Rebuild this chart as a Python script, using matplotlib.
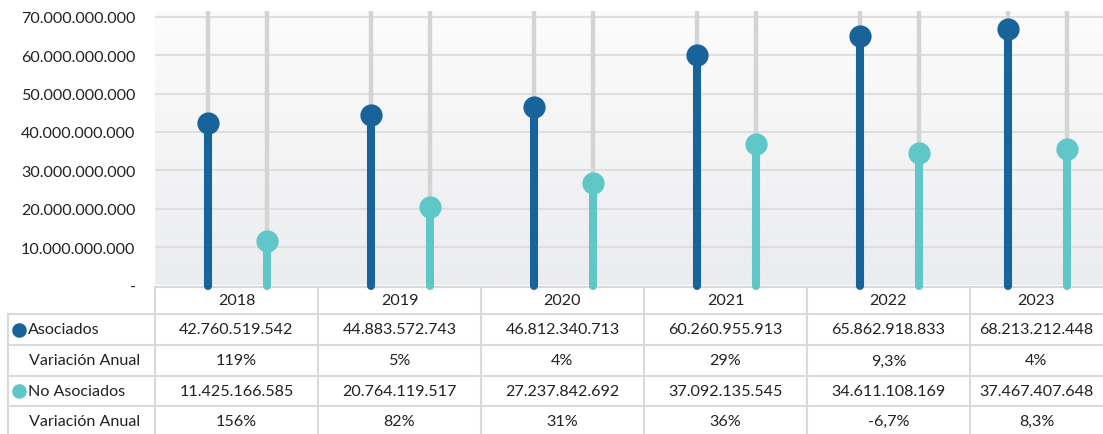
import matplotlib
matplotlib.use("Agg")
import matplotlib.pyplot as plt
import numpy as np
from matplotlib.ticker import FixedLocator, FuncFormatter

plt.rcParams['font.family'] = ['Lato', 'DejaVu Sans']

# ---------------- data ----------------
years = ["2018", "2019", "2020", "2021", "2022", "2023"]
# values shown in the table
asociados = [42760519542, 44883572743, 46812340713, 60260955913, 65862918833, 68213212448]
no_asociados = [11425166585, 20764119517, 27237842692, 37092135545, 34611108169, 37467407648]
var_asociados = ["119%", "5%", "4%", "29%", "9,3%", "4%"]
var_no_asociados = ["156%", "82%", "31%", "36%", "-6,7%", "8,3%"]
# values as plotted in the lollipop chart (billions)
asociados_plot = [42.2e9, 44.4e9, 46.6e9, 60.0e9, 64.9e9, 66.8e9]
no_asociados_plot = [11.7e9, 20.4e9, 26.7e9, 36.8e9, 34.6e9, 35.5e9]
series_names = ["Asociados", "No Asociados"]
var_label = "Variación Anual"
yticks = [0, 10e9, 20e9, 30e9, 40e9, 50e9, 60e9, 70e9]

# ---------------- style ----------------
W, H = 1103, 435
DPI = 100
C_BLUE = "#17639a"
C_TEAL = "#5fc7c7"
C_GRAY_LINE = "#d4d4d4"
C_GRID = "#dedede"
C_BORDER = "#dadada"
C_TEXT = "#222222"
FS = 11.6

fig = plt.figure(figsize=(W / DPI, H / DPI), dpi=DPI)
fig.patch.set_facecolor("white")

def px2fig(x0, y0, x1, y1):
    return [x0 / W, 1 - y1 / H, (x1 - x0) / W, (y1 - y0) / H]

# layout of columns (pixels)
tab_left = 155
col_widths = [163, 163, 163, 163, 163, 133]
col_edges = np.concatenate([[tab_left], tab_left + np.cumsum(col_widths)])
col_centers = (col_edges[:-1] + col_edges[1:]) / 2 + 0.7
offset = 29.5

# ---------------- main plot ----------------
plot_top, plot_zero = 12, 286.5
px_per_unit = (plot_zero - 17.7) / 70e9
ymax = (plot_zero - plot_top) / px_per_unit

ax = fig.add_axes(px2fig(tab_left, plot_top, W, plot_zero))
ax.set_xlim(tab_left, W)
ax.set_ylim(0, ymax)
ax.patch.set_alpha(0)

# gradient background
grad = np.linspace(0, 1, 256).reshape(-1, 1)
top_c = np.array([0xfc, 0xfc, 0xfc]) / 255
bot_c = np.array([0xeb, 0xec, 0xee]) / 255
img = top_c[None, None, :] * (1 - grad[:, :, None]) + bot_c[None, None, :] * grad[:, :, None]
ax.imshow(img, extent=[tab_left, W, 0, ymax], aspect="auto", origin="upper", zorder=0)

# grid
for t in yticks[1:]:
    ax.axhline(t, color=C_GRID, lw=1.5, zorder=1)

x_a = col_centers - offset
x_n = col_centers + offset

for xs, vals, c in [(x_a, asociados_plot, C_BLUE), (x_n, no_asociados_plot, C_TEAL)]:
    for x, v in zip(xs, vals):
        ax.plot([x, x], [0, ymax], color=C_GRAY_LINE, lw=3.2, zorder=2, solid_capstyle="butt")
        ax.plot([x, x], [0, v], color=c, lw=5.8, zorder=3, solid_capstyle="round", clip_on=False)
    ax.plot(xs, vals, "o", color=c, ms=16, zorder=4, clip_on=False, markeredgewidth=0)

ax.yaxis.set_major_locator(FixedLocator(yticks))
ax.yaxis.set_major_formatter(FuncFormatter(lambda v, p: "-" if v == 0 else f"{int(v):,}".replace(",", ".")))
ax.tick_params(axis="y", length=0, pad=14, labelsize=FS, labelcolor=C_TEXT)
ax.set_xticks([])
for s in ax.spines.values():
    s.set_visible(False)

# ---------------- table ----------------
tax = fig.add_axes([0, 0, 1, 1], zorder=-1)
tax.set_xlim(0, W)
tax.set_ylim(H, 0)
tax.axis("off")

row_edges = [288, 315, 346, 377, 407, 437]
left_edge = 8
lw_b = 1.5

# horizontal lines
tax.plot([tab_left, W], [row_edges[0]] * 2, color=C_BORDER, lw=lw_b)
for y in row_edges[1:]:
    tax.plot([left_edge, W], [y, y], color=C_BORDER, lw=lw_b)
# vertical lines
tax.plot([left_edge, left_edge], [row_edges[1], H], color=C_BORDER, lw=lw_b)
for x in col_edges[:-1]:
    tax.plot([x, x], [row_edges[0], H], color=C_BORDER, lw=lw_b)

row_mid = [(row_edges[i] + row_edges[i + 1]) / 2 for i in range(5)]

for i, yr in enumerate(years):
    tax.text((col_edges[i] + col_edges[i + 1]) / 2, row_mid[0], yr, ha="center", va="center",
             fontsize=FS, color=C_TEXT)

def fmt(v):
    return f"{v:,}".replace(",", ".")

rows = [
    (series_names[0], C_BLUE, [fmt(v) for v in asociados]),
    (var_label, None, var_asociados),
    (series_names[1], C_TEAL, [fmt(v) for v in no_asociados]),
    (var_label, None, var_no_asociados),
]
for r, (label, col, vals) in enumerate(rows):
    y = row_mid[r + 1]
    if col is not None:
        tax.plot([19], [y], "o", color=col, ms=10.5, markeredgewidth=0)
        tax.text(28, y, label, ha="left", va="center", fontsize=FS, color=C_TEXT)
    else:
        tax.text(29, y, label, ha="left", va="center", fontsize=FS, color=C_TEXT)
    for i, v in enumerate(vals):
        tax.text((col_edges[i] + col_edges[i + 1]) / 2, y, v, ha="center", va="center",
                 fontsize=FS, color=C_TEXT)

fig.savefig("out.png", dpi=DPI)
